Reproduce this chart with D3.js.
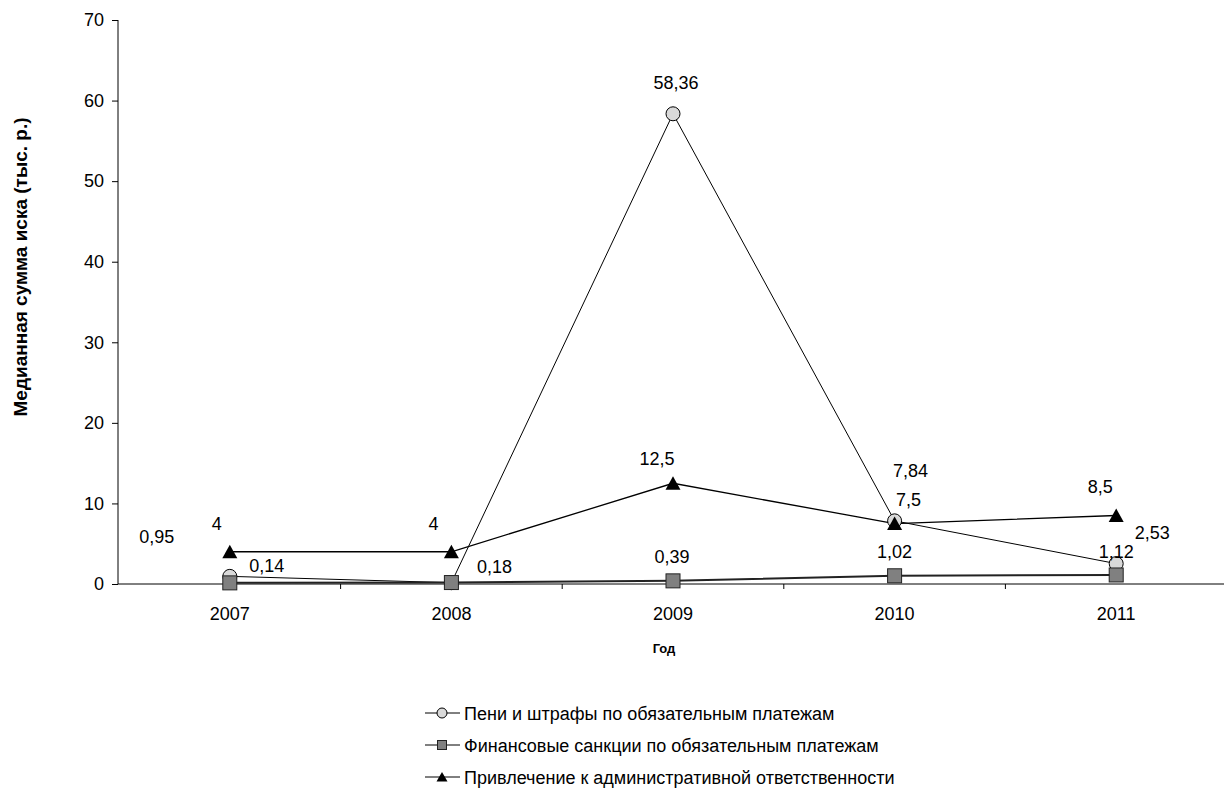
<!DOCTYPE html>
<html>
<head>
<meta charset="utf-8">
<script src="https://cdn.jsdelivr.net/npm/d3@7"></script>
<style>
  html, body { margin: 0; padding: 0; background: #fff; }
  svg { display: block; font-family: "Liberation Sans", Arial, sans-serif; }
</style>
</head>
<body>
<svg id="chart" width="1224" height="794"></svg>
<script>
// Years on the x axis
const years = ["2007", "2008", "2009", "2010", "2011"];
// Median claim amount, thousand roubles
const penalties = [0.95, 0.16, 58.36, 7.84, 2.53];
const sanctions = [0.14, 0.18, 0.39, 1.02, 1.12];
const liability = [4, 4, 12.5, 7.5, 8.5];
// Which points carry a value label (2008 penalties point sits under the square)
const penaltiesLabelled = [true, false, true, true, true];
const yTicks = [0, 10, 20, 30, 40, 50, 60, 70];
const seriesNames = [
  "Пени и штрафы по обязательным платежам",
  "Финансовые санкции по обязательным платежам",
  "Привлечение к административной ответственности"
];

// Label placement offsets (dx, dy of baseline) relative to each point
const penaltiesLabelOff = [[-73, -33], [0, 0], [3, -25], [16, -44], [36, -25]];
const sanctionsLabelOff = [[37, -11], [43, -9.5], [-1, -18], [0, -18], [0, -17]];
const liabilityLabelOff = [[-13, -22], [-18, -22], [-16, -18], [14, -18], [-16, -23]];

const fmt = v => String(v).replace(".", ",");

const svg = d3.select("#chart");
const x = d3.scaleBand().domain(years).range([119, 1227]);
const y = d3.scaleLinear().domain([0, 70]).range([584, 20]);
const cx = d => x(d) + x.bandwidth() / 2;

// Y axis
const yAxis = svg.append("g").attr("transform", "translate(118,0)")
  .call(d3.axisLeft(y).tickValues(yTicks).tickSize(6).tickPadding(8).tickFormat(d3.format("d")));
yAxis.select(".domain").attr("stroke", "#000").attr("d", "M0,20V584");
yAxis.selectAll(".tick line").attr("stroke", "#000");
yAxis.selectAll(".tick text").attr("font-size", 18).attr("fill", "#000")
  .attr("font-family", "'Liberation Sans', Arial, sans-serif");

// X axis: ticks sit between categories
const xAxisG = svg.append("g").attr("transform", "translate(0,584)");
xAxisG.append("line").attr("x1", 118).attr("x2", 1224).attr("y1", 0).attr("y2", 0)
  .attr("stroke", "#000");
years.slice(1).forEach(yr => {
  xAxisG.append("line").attr("x1", x(yr)).attr("x2", x(yr)).attr("y1", 0).attr("y2", 5)
    .attr("stroke", "#000");
});
xAxisG.selectAll("text.yl").data(years).enter().append("text")
  .attr("class", "yl").attr("x", d => cx(d)).attr("y", 36)
  .attr("text-anchor", "middle").attr("font-size", 18).attr("fill", "#000").text(d => d);

// Axis titles
svg.append("text").attr("transform", "translate(27,267) rotate(-90)")
  .attr("text-anchor", "middle").attr("font-size", 19).attr("font-weight", "bold")
  .text("Медианная сумма иска (тыс. р.)");
svg.append("text").attr("x", 664).attr("y", 653).attr("text-anchor", "middle")
  .attr("font-size", 13).attr("font-weight", "bold").text("Год");

const line = d3.line().x((d, i) => cx(years[i])).y(d => y(d));

// Series lines
svg.append("path").datum(penalties).attr("d", line).attr("fill", "none")
  .attr("stroke", "#000").attr("stroke-width", 1);
svg.append("path").datum(sanctions).attr("d", line).attr("fill", "none")
  .attr("stroke", "#222").attr("stroke-width", 2);
svg.append("path").datum(liability).attr("d", line).attr("fill", "none")
  .attr("stroke", "#000").attr("stroke-width", 1.3);

// Marker drawers
function circleMark(g, px, py) {
  g.append("circle").attr("cx", px).attr("cy", py).attr("r", 7)
    .attr("fill", "#d9d9d9").attr("stroke", "#000").attr("stroke-width", 1);
}
function squareMark(g, px, py) {
  g.append("rect").attr("x", px - 7).attr("y", py - 7).attr("width", 14).attr("height", 14)
    .attr("fill", "#808080").attr("stroke", "#222").attr("stroke-width", 1);
}
function triangleMark(g, px, py) {
  g.append("path").attr("d", `M${px},${py - 7}L${px + 7.5},${py + 6.5}L${px - 7.5},${py + 6.5}Z`)
    .attr("fill", "#000");
}

const marks = svg.append("g");
penalties.forEach((v, i) => circleMark(marks, cx(years[i]), y(v)));
sanctions.forEach((v, i) => squareMark(marks, cx(years[i]), y(v)));
liability.forEach((v, i) => triangleMark(marks, cx(years[i]), y(v)));

// Value labels
const labels = svg.append("g").attr("font-size", 18).attr("fill", "#000").attr("text-anchor", "middle");
function addLabels(vals, offs, show) {
  vals.forEach((v, i) => {
    if (show && !show[i]) return;
    labels.append("text").attr("x", cx(years[i]) + offs[i][0]).attr("y", y(v) + offs[i][1])
      .text(fmt(v));
  });
}
addLabels(penalties, penaltiesLabelOff, penaltiesLabelled);
addLabels(sanctions, sanctionsLabelOff);
addLabels(liability, liabilityLabelOff);

// Legend
const legend = svg.append("g");
seriesNames.forEach((name, i) => {
  const ly = 713 + i * 32;
  legend.append("line").attr("x1", 425).attr("x2", 460).attr("y1", ly).attr("y2", ly)
    .attr("stroke", "#000").attr("stroke-width", 1);
  if (i === 0) {
    legend.append("circle").attr("cx", 442).attr("cy", ly).attr("r", 5)
      .attr("fill", "#d9d9d9").attr("stroke", "#000");
  } else if (i === 1) {
    legend.append("rect").attr("x", 437.5).attr("y", ly - 4.5).attr("width", 9).attr("height", 9)
      .attr("fill", "#808080").attr("stroke", "#222");
  } else {
    legend.append("path").attr("d", `M442,${ly - 5}L447.5,${ly + 4.5}L436.5,${ly + 4.5}Z`).attr("fill", "#000");
  }
  legend.append("text").attr("x", 464).attr("y", ly + 6.5).attr("font-size", 18)
    .attr("fill", "#000").text(name);
});
</script>
</body>
</html>
